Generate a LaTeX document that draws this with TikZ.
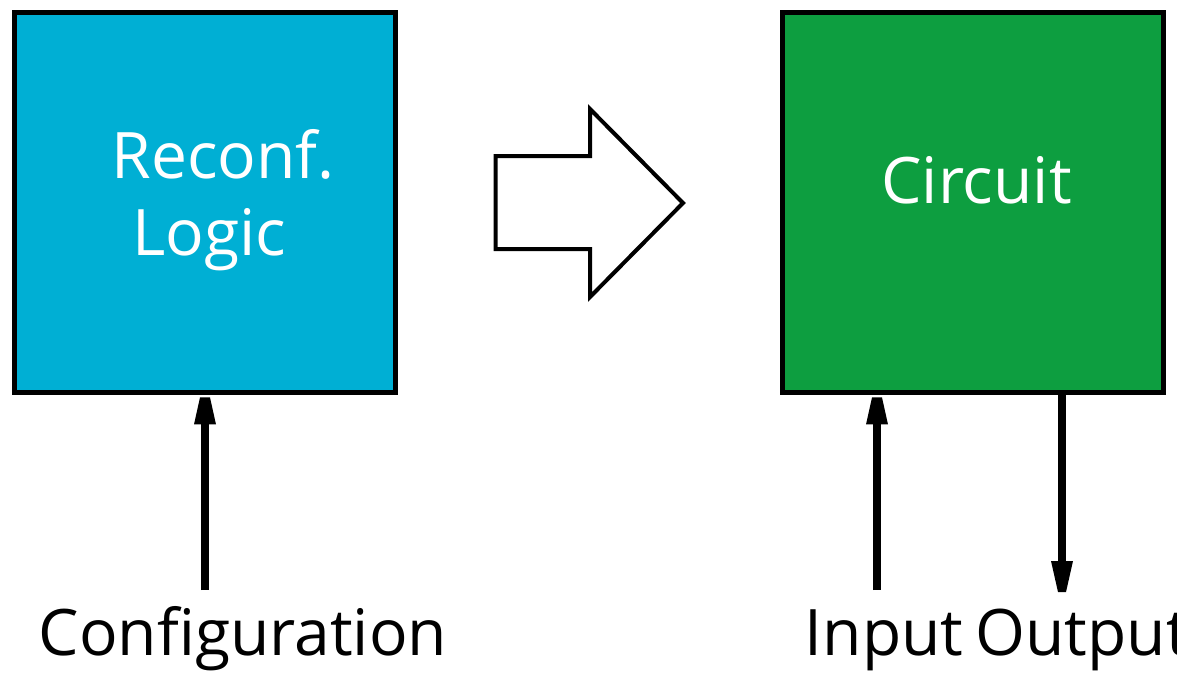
\documentclass[tikz,border=0pt]{standalone}
\usepackage{fontspec}
\setmainfont{Open Sans}
\usetikzlibrary{calc}
\definecolor{boxblue}{RGB}{0,175,212}
\definecolor{boxgreen}{RGB}{13,158,64}
\tikzset{
  blk/.style={draw=black, line width=0.1cm, minimum width=7.62cm, minimum height=7.6cm, inner sep=0pt},
  conn/.style={draw=black, line width=0.16cm},
  lbl/.style={inner sep=0pt, anchor=base, font=\fontsize{36.5pt}{36.5pt}\selectfont},
  inlbl/.style={inner sep=0pt, anchor=base, text=white, font=\fontsize{36.5pt}{36.5pt}\selectfont},
}
\begin{document}
\begin{tikzpicture}[x=0.02cm, y=-0.02cm]
\useasboundingbox (0,0) rectangle (1177,673);
% boxes
\node[blk, fill=boxblue] (rl) at (205,202.5) {};
\node[blk, fill=boxgreen] (ci) at (973,202.5) {};
% inner texts
\node[inlbl] (t1) at (223,178) {Reconf.};
\node[inlbl] (t2) at (209.5,255) {Logic};
\node[inlbl] (t3) at (976.5,203) {Circuit};
% big outline arrow
\draw[line width=0.08cm, fill=white, line join=miter]
  (495.5,156) -- (590,156) -- (590,109) -- (683,203) -- (590,297) -- (590,249) -- (495.5,249) -- cycle;
% labels
\node[lbl] (cfg) at (243,655) {Configuration};
\node[lbl] (inp) at (884,655) {Input};
\node[lbl, anchor=base west] (outp) at (975,655) {Output};
% connector endpoints
\coordinate (cA) at (205,590);
\coordinate (cB) at (877,590);
\coordinate (cC) at (1062,588);
% configuration arrow
\draw[conn] (cA) -- ($(cA |- rl.south)+(0,25)$);
\fill ($(cA |- rl.south)+(-5,2.5)$) -- ++(10,0) -- ++(6,27) -- ++(-22,0) -- cycle;
% input arrow
\draw[conn] (cB) -- ($(cB |- ci.south)+(0,25)$);
\fill ($(cB |- ci.south)+(-5,2.5)$) -- ++(10,0) -- ++(6,27) -- ++(-22,0) -- cycle;
% output arrow
\coordinate (oTop) at (ci.south -| cC);
\draw[conn] (oTop) -- ($(cC)+(0,-25)$);
\fill ($(cC)+(-4,4)$) -- ++(8,0) -- ++(7,-31) -- ++(-22,0) -- cycle;
\end{tikzpicture}
\end{document}
